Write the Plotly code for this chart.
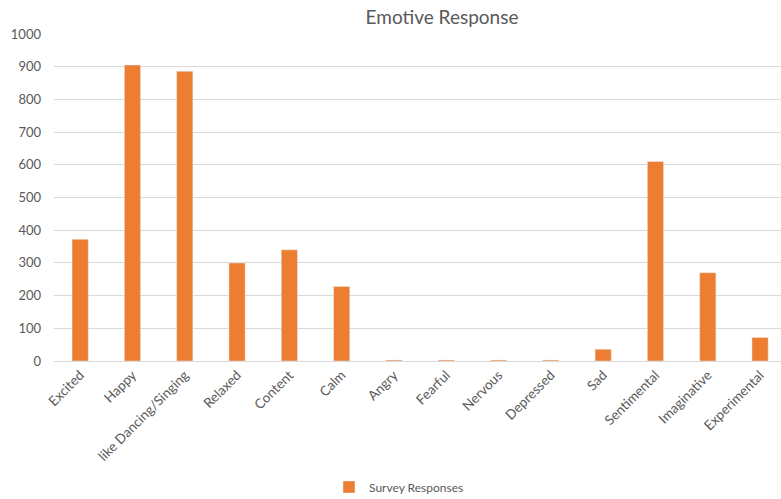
import plotly.graph_objects as go

categories = ["Excited", "Happy", "like Dancing/Singing", "Relaxed", "Content", "Calm",
              "Angry", "Fearful", "Nervous", "Depressed", "Sad", "Sentimental",
              "Imaginative", "Experimental"]
responses = [372, 905, 886, 300, 340, 228, 3, 3, 3, 3, 36, 610, 270, 72]
y_ticks = [0, 100, 200, 300, 400, 500, 600, 700, 800, 900, 1000]

font_family = "Lato, 'Open Sans', sans-serif"
grey = "#595959"

fig = go.Figure()
fig.add_trace(go.Bar(
    x=categories, y=responses, name="Survey Responses",
    marker=dict(color="#ED7D31"), showlegend=True,
))

fig.update_layout(
    width=781, height=499,
    margin=dict(l=54, r=0, t=34, b=138, autoexpand=False),
    paper_bgcolor="white", plot_bgcolor="white",
    bargap=0.69,
    title=dict(text="Emotive Response", x=442/781, xref="container",
               xanchor="center", y=1 - 17/499, yanchor="middle",
               font=dict(family=font_family, size=19, color=grey)),
    font=dict(family=font_family, color=grey),
    legend=dict(orientation="h", xref="container", yref="container",
                x=399/781, xanchor="center", y=1 - 487/499, yanchor="middle",
                font=dict(size=12, color=grey), bgcolor="rgba(0,0,0,0)"),
    xaxis=dict(range=[-0.5, 13.4], tickangle=-45, tickfont=dict(size=13.5, color=grey),
               showline=True, linecolor="#d9d9d9", linewidth=1, ticks="",
               showgrid=False, automargin=False),
    yaxis=dict(range=[0, 1000], tickvals=y_ticks, tickfont=dict(size=13, color=grey),
               showgrid=True, gridcolor="#d9d9d9", gridwidth=1, zeroline=False,
               ticks="", ticklen=0, ticklabelstandoff=12, automargin=False),
)

fig.write_html("out.html")
